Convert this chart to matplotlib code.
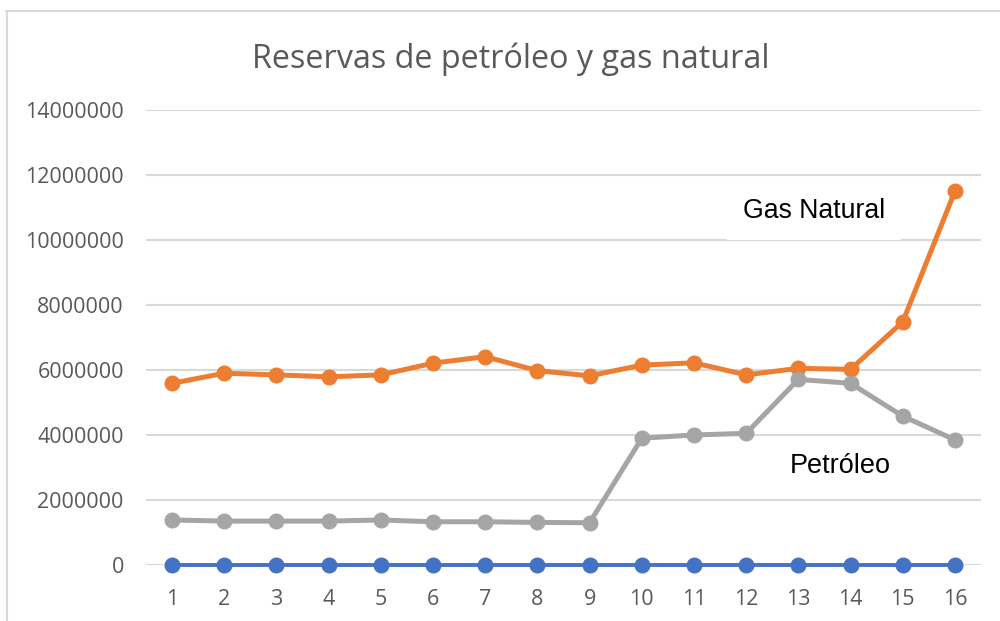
import matplotlib.pyplot as plt
from matplotlib.lines import Line2D

# datos
periodos = list(range(1, 17))
serie_azul = [0] * 16
gas_natural = [5590000, 5900000, 5850000, 5790000, 5850000, 6210000, 6410000, 5980000,
               5820000, 6150000, 6220000, 5850000, 6050000, 6020000, 7480000, 11500000]
petroleo = [1385000, 1350000, 1350000, 1350000, 1385000, 1330000, 1330000, 1310000,
            1300000, 3900000, 4000000, 4050000, 5710000, 5590000, 4580000, 3850000]
y_ticks = list(range(0, 14000001, 2000000))

gris_texto = "#595959"

fig = plt.figure(figsize=(10, 6.21), dpi=100)
ax = fig.add_axes([0.146, 0.0902, 0.835, 0.7327])

ax.plot(periodos, serie_azul, color="#4472C4", lw=2.8, marker="o", ms=10.5, zorder=3, clip_on=False)
ax.plot(periodos, gas_natural, color="#ED7D31", lw=3.6, marker="o", ms=10.5, zorder=3, clip_on=False)
ax.plot(periodos, petroleo, color="#A5A5A5", lw=3.6, marker="o", ms=10.5, zorder=3, clip_on=False)

ax.set_xlim(0.5, 16.5)
ax.set_ylim(0, 14000000)
ax.set_yticks(y_ticks)
ax.set_yticklabels([str(v) for v in y_ticks])
ax.set_xticks(periodos)
ax.yaxis.grid(True, color="#d9d9d9", lw=1.5)
ax.set_axisbelow(True)
for s in ax.spines.values():
    s.set_visible(False)
ax.tick_params(length=0, labelsize=15.5, labelcolor=gris_texto)
ax.tick_params(axis="x", pad=17)
ax.tick_params(axis="y", pad=16)
for lab in ax.get_xticklabels() + ax.get_yticklabels():
    lab.set_family("Open Sans")

ax.text(13.3, 10900000, "Gas Natural", fontsize=19.2, family="Liberation Sans",
        ha="center", va="center", zorder=4,
        bbox=dict(boxstyle="square,pad=0.6", fc="white", ec="none"))
ax.text(13.8, 3050000, "Petróleo", fontsize=19.5, family="Liberation Sans",
        ha="center", va="center", zorder=4)

fig.text(0.511, 0.904, "Reservas de petróleo y gas natural", fontsize=23.3,
         family="Open Sans", color=gris_texto, ha="center", va="center")

# marco del grafico
fig.add_artist(Line2D([0.006, 1.0], [0.983, 0.983], color="#d9d9d9", lw=1.5))
fig.add_artist(Line2D([0.007, 0.007], [0.0, 0.983], color="#d9d9d9", lw=1.5))

fig.savefig("out.png", dpi=100)
